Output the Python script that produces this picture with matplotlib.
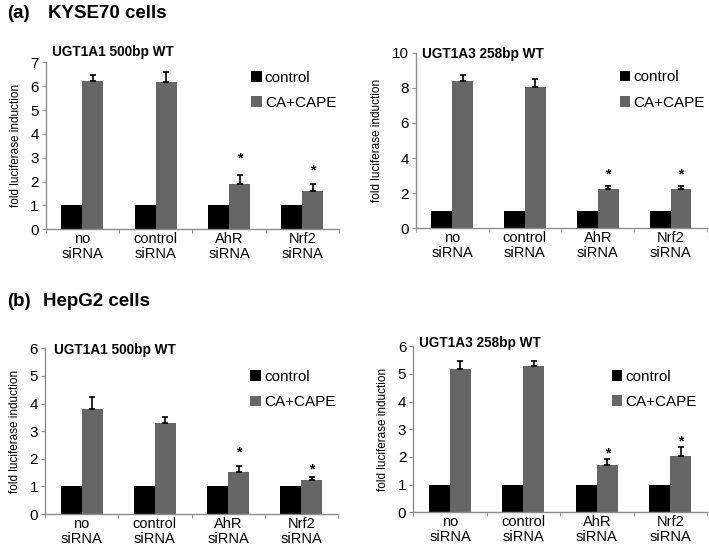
import matplotlib.pyplot as plt
import numpy as np

plt.rcParams["font.family"] = ["Liberation Sans", "DejaVu Sans"]

groups = ["no\nsiRNA", "control\nsiRNA", "AhR\nsiRNA", "Nrf2\nsiRNA"]
series_names = ["control", "CA+CAPE"]

# (a) KYSE70, UGT1A1 500bp WT
a1_control = [1.0, 1.0, 1.0, 1.0]
a1_cape = [6.22, 6.16, 1.91, 1.62]
a1_err = [0.26, 0.42, 0.35, 0.27]
a1_star = [None, None, 2.97, 2.45]

# (a) KYSE70, UGT1A3 258bp WT
a3_control = [1.0, 1.0, 1.0, 1.0]
a3_cape = [8.41, 8.06, 2.26, 2.25]
a3_err = [0.33, 0.45, 0.13, 0.14]
a3_star = [None, None, 3.09, 3.09]

# (b) HepG2, UGT1A1 500bp WT
b1_control = [1.0, 1.0, 1.0, 1.0]
b1_cape = [3.79, 3.30, 1.53, 1.24]
b1_err = [0.46, 0.21, 0.22, 0.09]
b1_star = [None, None, 2.22, 1.62]

# (b) HepG2, UGT1A3 258bp WT
b3_control = [1.0, 1.0, 1.0, 1.0]
b3_cape = [5.18, 5.29, 1.72, 2.04]
b3_err = [0.30, 0.19, 0.20, 0.32]
b3_star = [None, None, 2.13, 2.55]

black = "#000000"
grey = "#666666"
spine_col = "#8c8c8c"

fig = plt.figure(figsize=(7.09, 5.46), dpi=100)


def panel(rect, title, ctrl, cape, err, star, ymax, ystep, leg_xy, title_xy):
    ax = fig.add_axes(rect)
    x = np.arange(len(groups))
    w = 1 / 3.5
    ax.bar(x - w / 2, ctrl, w, color=black, label=series_names[0])
    ax.bar(x + w / 2, cape, w, color=grey, label=series_names[1])
    ax.errorbar(x + w / 2, cape, yerr=[[0] * len(err), err], fmt="none",
                ecolor="black", elinewidth=1.2, capsize=2.5, capthick=1.2)
    for xi, s in zip(x, star):
        if s is not None:
            ax.text(xi + w / 2, s, "*", ha="center", va="center",
                    fontsize=10, fontweight="bold")
    ax.set_xlim(-0.5, len(groups) - 0.5)
    ax.set_ylim(0, ymax)
    ax.set_yticks(np.arange(0, ymax + 0.01, ystep))
    ax.set_xticks(x)
    ax.set_xticklabels(groups, fontsize=10.5, linespacing=1.1)
    ax.set_xticks(np.arange(-0.5, len(groups)), minor=True)
    ax.tick_params(axis="x", which="major", length=0, pad=2)
    ax.tick_params(axis="x", which="minor", length=3, color=spine_col,
                   direction="out")
    ax.tick_params(axis="y", length=3, color=spine_col, labelsize=11, pad=2)
    for side in ["top", "right"]:
        ax.spines[side].set_visible(False)
    for side in ["left", "bottom"]:
        ax.spines[side].set_color(spine_col)
        ax.spines[side].set_linewidth(1.0)
    ax.set_ylabel("fold luciferase induction", fontsize=8.5, labelpad=6)
    ax.text(title_xy[0], title_xy[1], title, transform=ax.transAxes,
            fontsize=9.8, fontweight="bold", ha="left", va="center")
    ax.legend(loc="upper left", bbox_to_anchor=leg_xy, frameon=False,
              fontsize=11, handlelength=0.7, handleheight=0.7,
              handletextpad=0.2, labelspacing=0.75, borderpad=0,
              borderaxespad=0)
    return ax


panel([0.0645, 0.580, 0.4137, 0.3059], "UGT1A1 500bp WT",
      a1_control, a1_cape, a1_err, a1_star, 7, 1, (0.70, 0.95), (0.02, 1.06))
panel([0.5863, 0.5819, 0.4109, 0.3216], "UGT1A3 258bp WT",
      a3_control, a3_cape, a3_err, a3_star, 10, 2, (0.70, 0.90), (0.02, 0.995))
panel([0.0635, 0.0586, 0.4133, 0.3035], "UGT1A1 500bp WT",
      b1_control, b1_cape, b1_err, b1_star, 6, 1, (0.70, 0.87), (0.03, 0.99))
panel([0.5829, 0.0617, 0.4142, 0.304], "UGT1A3 258bp WT",
      b3_control, b3_cape, b3_err, b3_star, 6, 1, (0.675, 0.86), (0.02, 1.02))

fig.text(7 / 709, 1 - 13 / 546, "(a)", fontsize=13.5, fontweight="bold",
         ha="left", va="center")
fig.text(48 / 709, 1 - 13 / 546, "KYSE70 cells", fontsize=13.5,
         fontweight="bold", ha="left", va="center")
fig.text(7 / 709, 1 - 302 / 546, "(b)", fontsize=13.5, fontweight="bold",
         ha="left", va="center")
fig.text(43 / 709, 1 - 302 / 546, "HepG2 cells", fontsize=13.5,
         fontweight="bold", ha="left", va="center")

fig.savefig("out.png", dpi=100)
